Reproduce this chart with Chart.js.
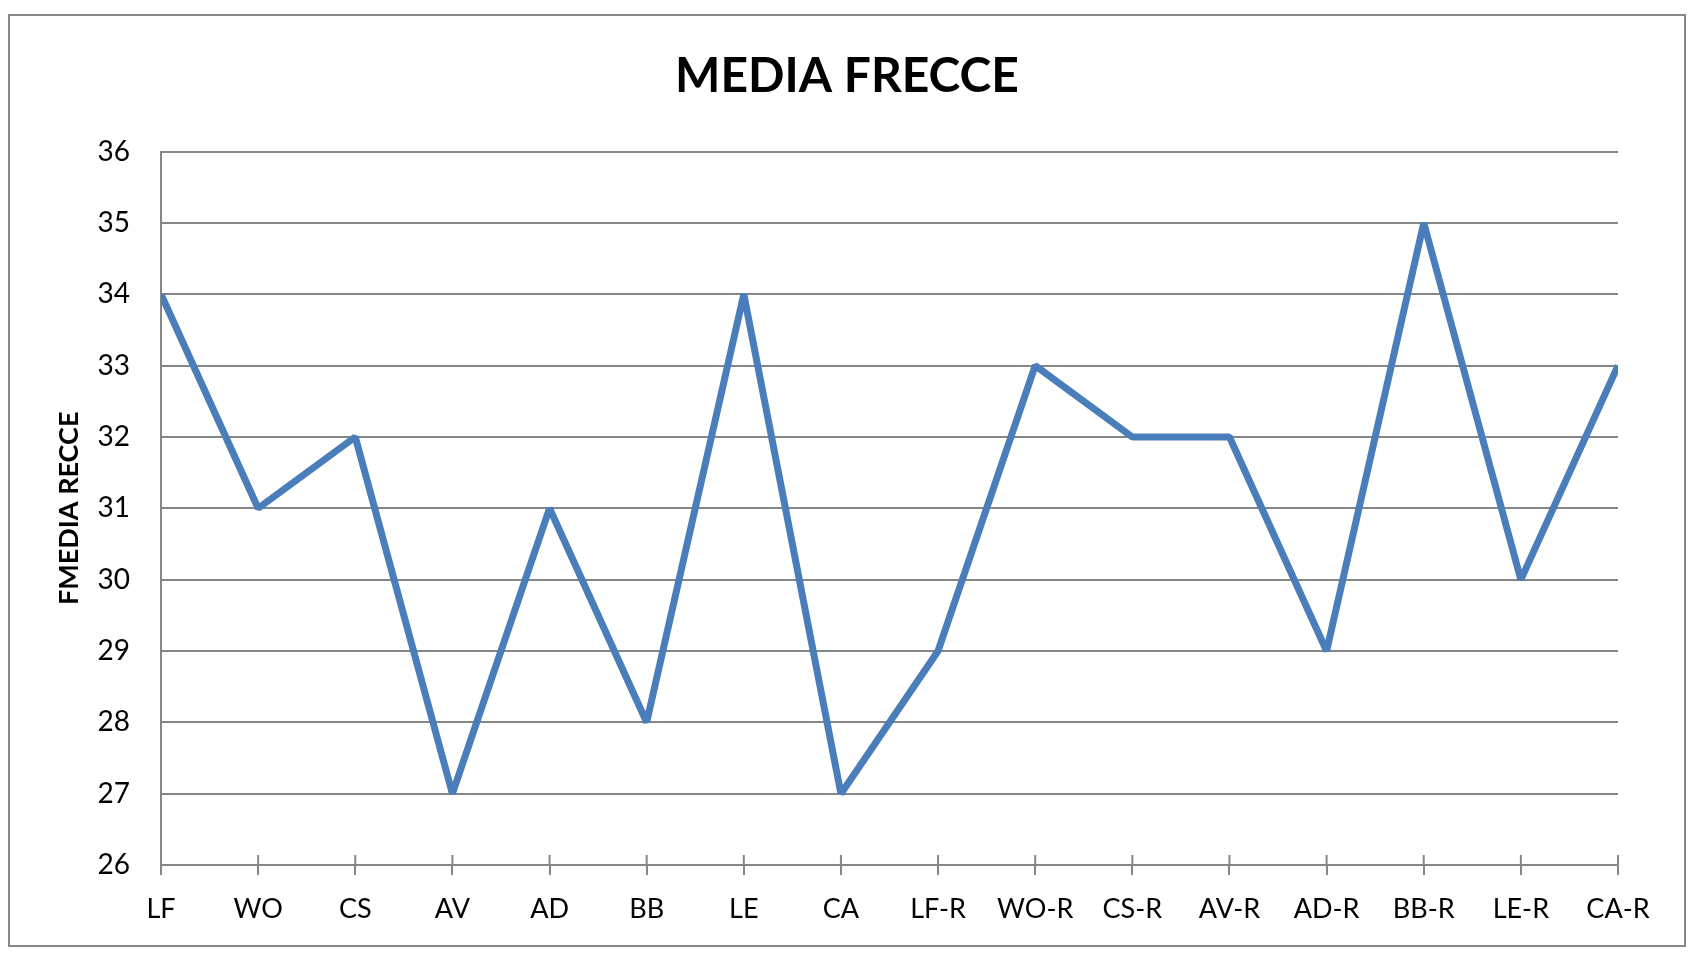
<!DOCTYPE html>
<html>
<head>
<meta charset="utf-8">
<script src="https://cdn.jsdelivr.net/npm/chart.js@4/dist/chart.umd.min.js"></script>
<style>
  html, body { margin: 0; padding: 0; background: #ffffff; }
  #wrap { width: 1698px; height: 967px; position: relative; }
</style>
</head>
<body>
<div id="wrap"><canvas id="c"></canvas></div>
<script>
const categories = ['LF','WO','CS','AV','AD','BB','LE','CA','LF-R','WO-R','CS-R','AV-R','AD-R','BB-R','LE-R','CA-R'];
const mediaFrecce = [34,31,32,27,31,28,34,27,29,33,32,32,29,35,30,33];
const yMin = 26;
const yMax = 36;
const yStep = 1;
const chartTitle = 'MEDIA FRECCE';
const yAxisTitle = 'FMEDIA RECCE';

const GRAY = '#868686';
const FONT = 'Lato, "Open Sans", sans-serif';

const frame = {
  id: 'frame',
  beforeDraw(chart) {
    const ctx = chart.ctx;
    ctx.save();
    ctx.fillStyle = '#ffffff';
    ctx.fillRect(0, 0, chart.width, chart.height);
    ctx.strokeStyle = GRAY;
    ctx.lineWidth = 2;
    ctx.strokeRect(9, 15, 1676, 931);
    ctx.restore();
  }
};

const crossTicks = {
  id: 'crossTicks',
  afterDatasetsDraw(chart) {
    const sc = chart.scales.x;
    const ctx = chart.ctx;
    ctx.save();
    ctx.strokeStyle = GRAY;
    ctx.lineWidth = 2;
    for (let i = 0; i < sc.ticks.length; i++) {
      const x = sc.getPixelForTick(i);
      ctx.beginPath();
      ctx.moveTo(x, sc.top - 10);
      ctx.lineTo(x, sc.top);
      ctx.stroke();
    }
    ctx.restore();
  }
};

new Chart(document.getElementById('c'), {
  type: 'line',
  data: {
    labels: categories,
    datasets: [{
      label: chartTitle,
      data: mediaFrecce,
      borderColor: '#4A7EBB',
      backgroundColor: '#4A7EBB',
      borderWidth: 7,
      borderJoinStyle: 'bevel',
      pointRadius: 0,
      pointHoverRadius: 0,
      tension: 0,
      fill: false,
      clip: 0
    }]
  },
  options: {
    responsive: true,
    maintainAspectRatio: false,
    animation: false,
    events: [],
    layout: { padding: { left: 9, right: 13, top: 0, bottom: 0 } },
    plugins: {
      legend: { display: false },
      tooltip: { enabled: false },
      title: {
        display: true,
        text: chartTitle,
        color: '#000000',
        font: { family: FONT, size: 48, weight: 'bold', lineHeight: 1.2 },
        padding: { top: 48, bottom: 46 }
      }
    },
    scales: {
      x: {
        type: 'category',
        offset: false,
        grid: { display: true, drawOnChartArea: false, drawTicks: true, tickLength: 10, color: GRAY, lineWidth: 2 },
        border: { display: true, color: GRAY, width: 2 },
        ticks: { color: '#000000', font: { family: FONT, size: 27 }, padding: 18, autoSkip: false, maxRotation: 0, minRotation: 0 },
        afterFit(s) { s.height = 102; }
      },
      y: {
        type: 'linear',
        position: 'left',
        min: yMin,
        max: yMax,
        grid: { display: true, drawTicks: false, color: GRAY, lineWidth: 2 },
        border: { display: true, color: GRAY, width: 2 },
        ticks: { stepSize: yStep, color: '#000000', font: { family: FONT, size: 28 }, padding: 31 },
        title: {
          display: true,
          text: yAxisTitle,
          color: '#000000',
          font: { family: FONT, size: 27, weight: 'bold', lineHeight: 1.2 },
          padding: { top: 44, bottom: 0 }
        },
        afterFit(s) { s.width = 152; }
      },
      y2: {
        type: 'linear',
        position: 'right',
        display: true,
        grid: { display: false, drawTicks: false },
        border: { display: false },
        ticks: { display: false },
        afterFit(s) { s.width = 67; }
      }
    }
  },
  plugins: [frame, crossTicks]
});
</script>
</body>
</html>
